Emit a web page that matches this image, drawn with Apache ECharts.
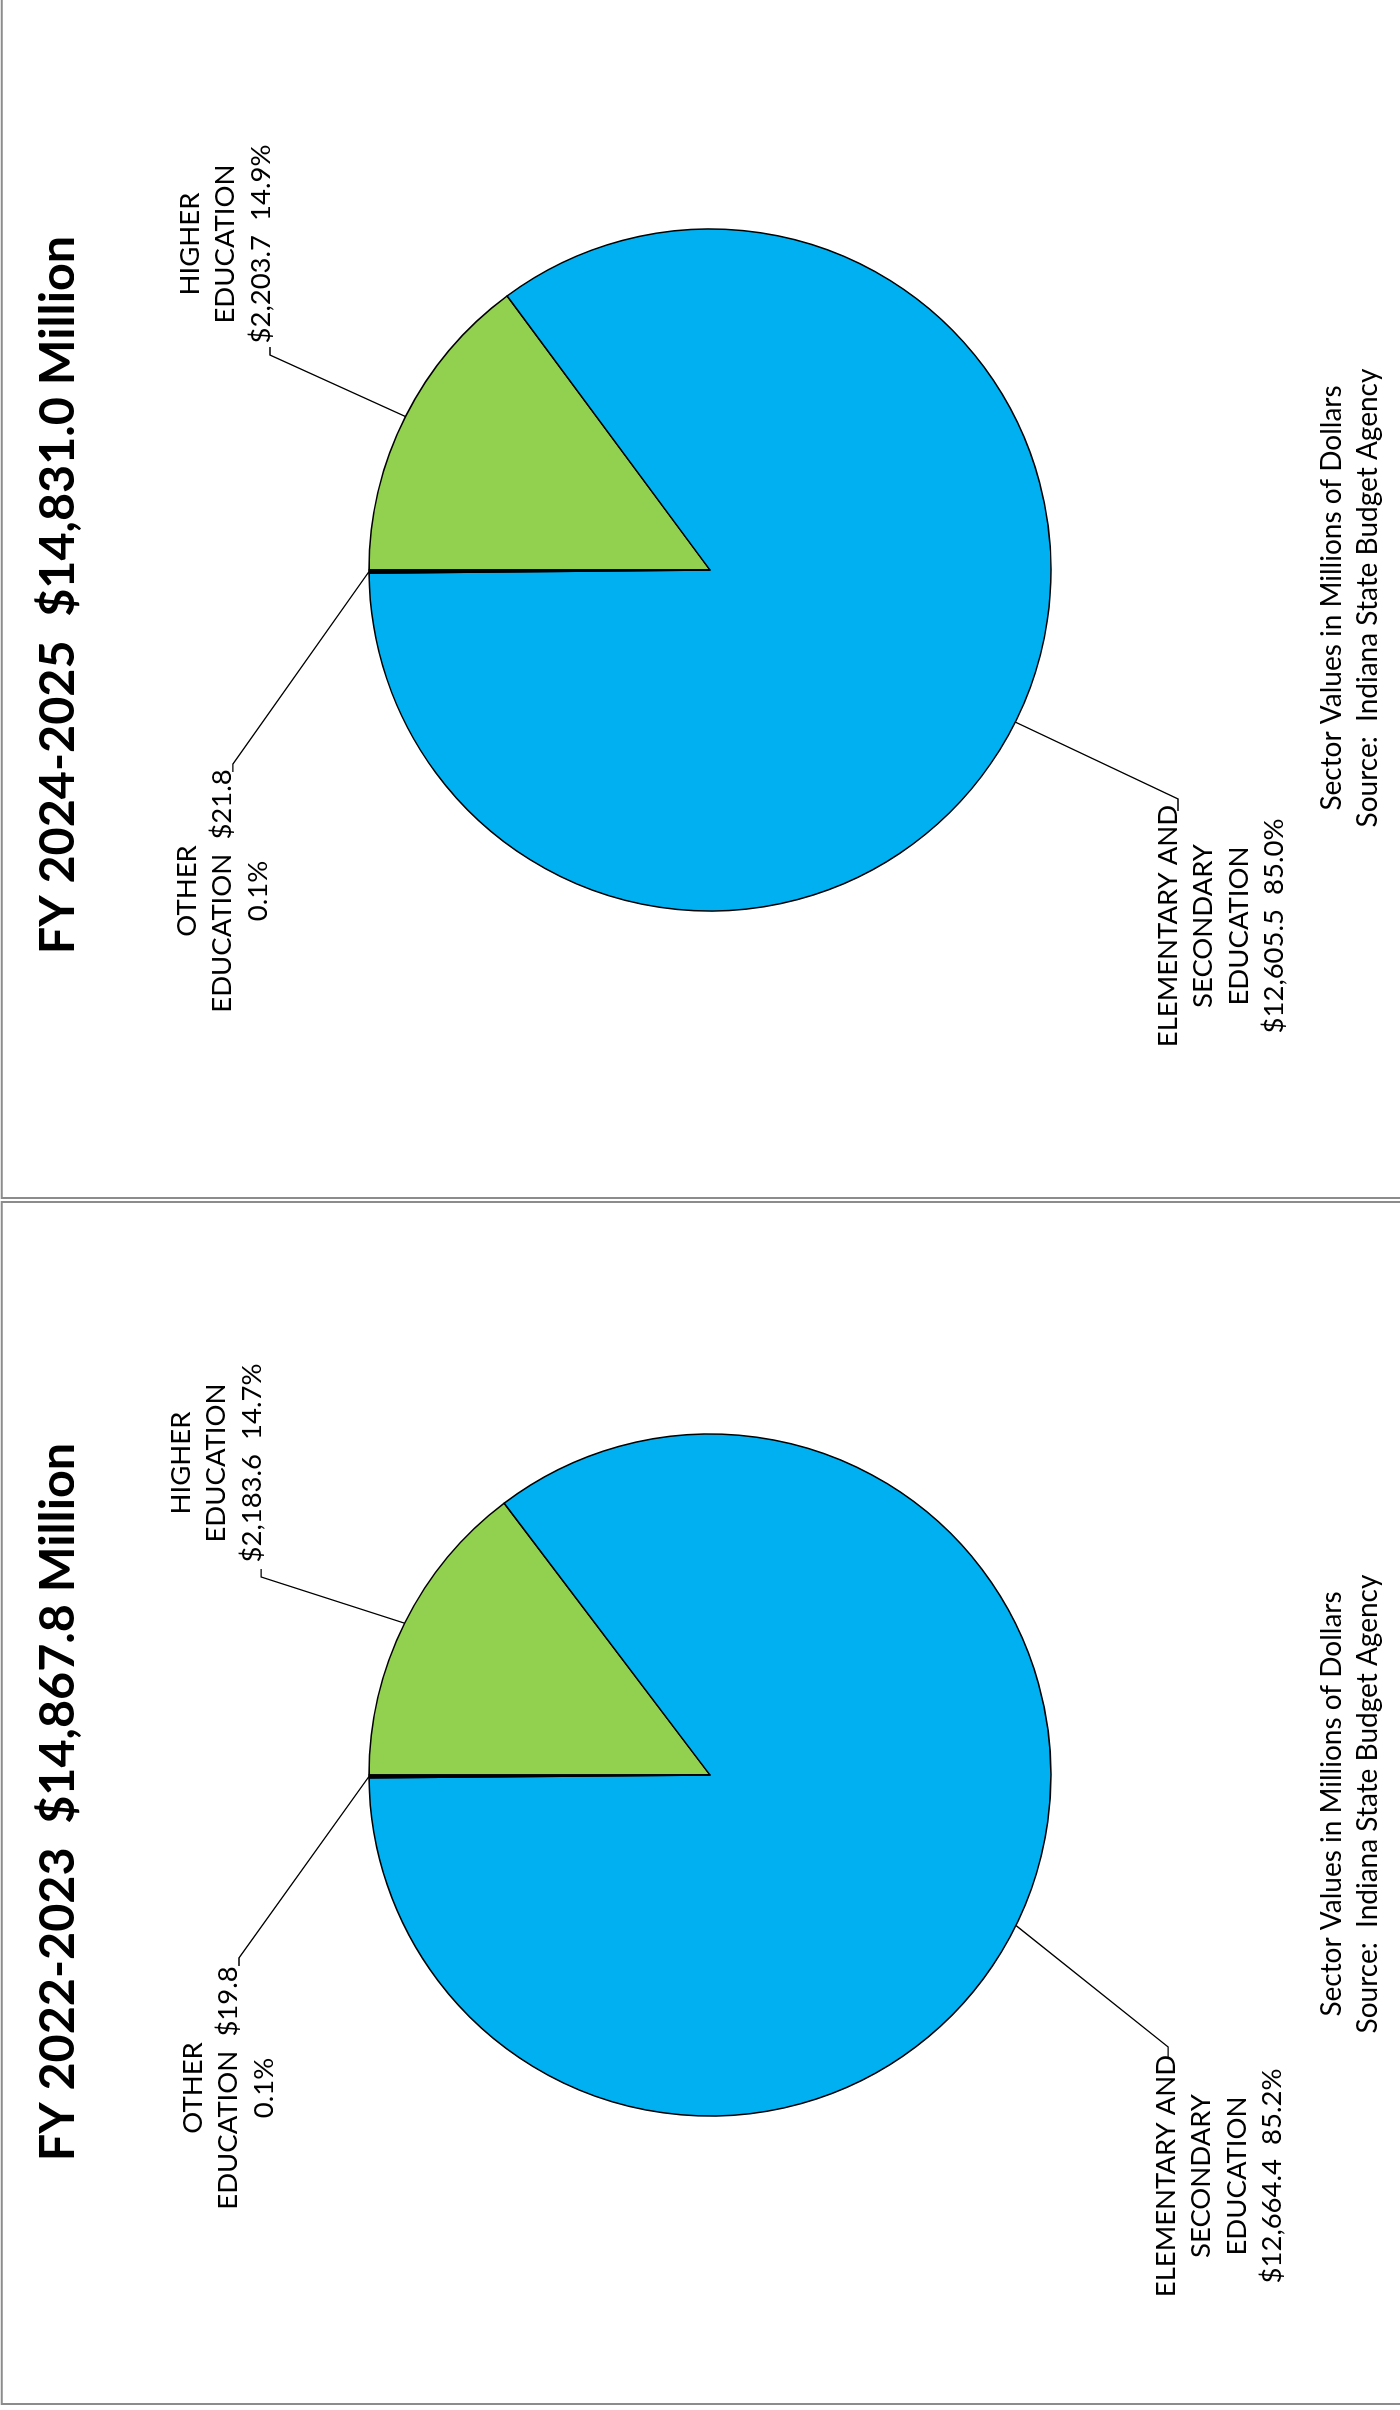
<!DOCTYPE html>
<html><head><meta charset="utf-8">
<script src="https://cdn.jsdelivr.net/npm/echarts@6/dist/echarts.min.js"></script>
<style>
html,body{margin:0;padding:0;width:1400px;height:2410px;overflow:hidden;background:#fff}
#page{position:absolute;left:0;top:0;width:2410px;height:1400px;transform-origin:0 0;transform:translate(0,2410px) rotate(-90deg);}
</style></head><body><div id="page"></div>
<script>
// ---- data ----
const categories = ['HIGHER EDUCATION', 'ELEMENTARY AND SECONDARY EDUCATION', 'OTHER EDUCATION'];
const labelTemplates = ['HIGHER\nEDUCATION\n{v}  {p}', 'ELEMENTARY AND\nSECONDARY\nEDUCATION\n{v}  {p}', 'OTHER\nEDUCATION  {v}\n{p}'];
const fy2223Values = [2183.6, 12664.4, 19.8];
const fy2425Values = [2203.7, 12605.5, 21.8];
const titles = ['FY 2022-2023  $14,867.8 Million', 'FY 2024-2025  $14,831.0 Million'];
const notes = ['Sector Values in Millions of Dollars', 'Source:  Indiana State Budget Agency'];
const colors = ['#92D050', '#00B0F0', '#000000'];

// ---- layout (landscape frame; page is rotated -90deg) ----
const R = 341;
const LABEL_FONT = 'Lato';
const panels = [
  { values: fy2223Values, title: titles[0], center: [635, 710], titleX: 608, noteX: 606, frameX: 6, frameW: 1202,
    labels: [ {a: 66.2, r: 490.7, hook: 8, dx: 312, dy: -547},
              {a: -120.7, r: 532.7, hook: -10, dx: -401, dy: 438},
              {a: 111.23, r: 505.3, hook: -8, dx: -313, dy: -535} ] },
  { values: fy2425Values, title: titles[1], center: [1840, 710], titleX: 1815, noteX: 1812, frameX: 1212, frameW: 1300,
    labels: [ {a: 63.96, r: 489.7, hook: 8, dx: 326, dy: -538},
              {a: -116.07, r: 521, hook: -12, dx: -356, dy: 440},
              {a: 112.13, r: 515, hook: -8, dx: -321, dy: -541} ] }
];

function money(v) {
  return '$' + v.toLocaleString('en-US', {minimumFractionDigits: 1, maximumFractionDigits: 1});
}
function midAngle(values, i) {
  const total = values.reduce((a, b) => a + b, 0);
  let cum = 0;
  for (let j = 0; j < i; j++) cum += values[j];
  return (90 - 360 * (cum + values[i] / 2) / total) * Math.PI / 180;
}

const chart = echarts.init(document.getElementById('page'), null, {renderer: 'canvas'});
const series = panels.map((pn) => {
  const total = pn.values.reduce((a, b) => a + b, 0);
  return {
    type: 'pie',
    center: pn.center,
    radius: [0, R],
    startAngle: 90,
    clockwise: true,
    avoidLabelOverlap: false,
    silent: true,
    animation: false,
    itemStyle: {borderColor: '#000', borderWidth: 1.5},
    label: {
      show: true, position: 'outside', color: '#000', fontFamily: LABEL_FONT, fontSize: 27.5,
      lineHeight: 35.5, align: 'center',
      formatter: (p) => labelTemplates[p.dataIndex]
        .replace('{v}', money(pn.values[p.dataIndex]))
        .replace('{p}', (pn.values[p.dataIndex] / total * 100).toFixed(1) + '%')
    },
    labelLine: {show: true, length: 20, length2: 10, smooth: false, lineStyle: {color: '#000', width: 1.3}},
    labelLayout: (p) => {
      const L = pn.labels[p.dataIndex];
      const cx = pn.center[0], cy = pn.center[1];
      const m = midAngle(pn.values, p.dataIndex);
      const a = L.a * Math.PI / 180;
      const edge = [cx + R * Math.cos(m), cy - R * Math.sin(m)];
      const elbow = [cx + L.r * Math.cos(a), cy - L.r * Math.sin(a)];
      const end = [elbow[0] + L.hook, elbow[1]];
      return {x: cx + L.dx, y: cy + L.dy, align: 'center', verticalAlign: 'top', labelLinePoints: [edge, elbow, end]};
    },
    data: categories.map((c, i) => ({name: c, value: pn.values[i], itemStyle: {color: colors[i]}}))
  };
});

const titleList = [];
panels.forEach((pn) => {
  titleList.push({text: pn.title, left: pn.titleX, top: 58, textAlign: 'center', textVerticalAlign: 'middle', padding: 0,
    textStyle: {fontFamily: LABEL_FONT, fontWeight: 'bold', fontSize: 48.5, color: '#000'}});
  titleList.push({text: notes.join('\n'), left: pn.noteX, top: 1350, textAlign: 'center', textVerticalAlign: 'middle', padding: 0,
    textStyle: {fontFamily: LABEL_FONT, fontWeight: 'normal', fontSize: 28, lineHeight: 36, color: '#000'}});
});

const frames = panels.map((pn) => ({type: 'rect', silent: true,
  shape: {x: pn.frameX, y: 1.8, width: pn.frameW, height: 1500},
  style: {fill: 'none', stroke: '#8c8c8c', lineWidth: 2}}));

chart.setOption({
  backgroundColor: '#fff',
  animation: false,
  title: titleList,
  graphic: frames,
  series: series
});
</script></body></html>
